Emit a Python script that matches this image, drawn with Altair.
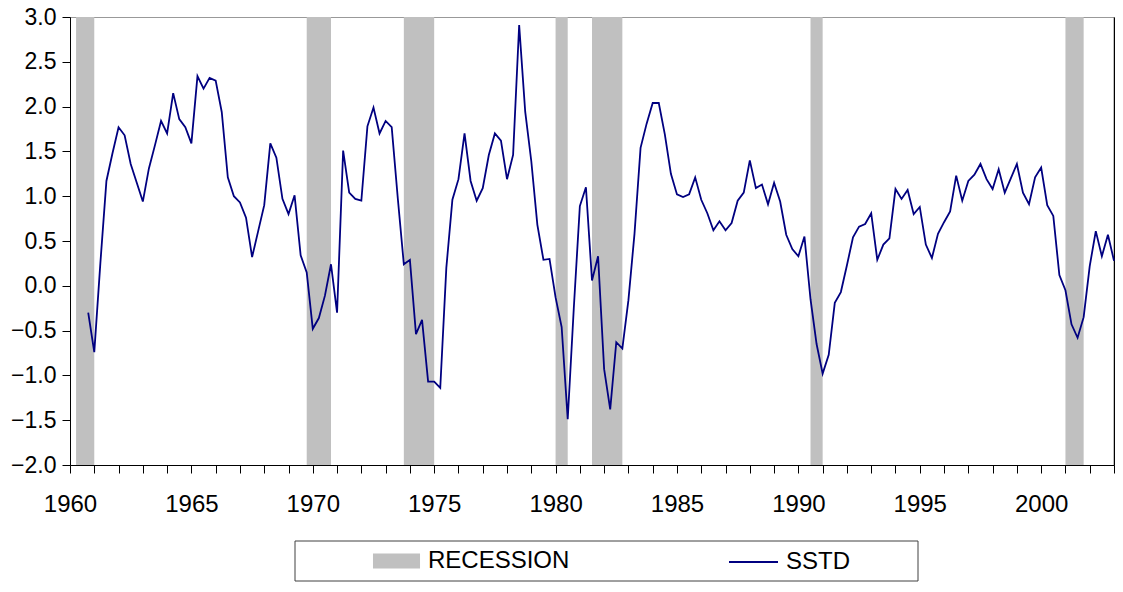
import altair as alt
import pandas as pd

# Quarterly SSTD series, 1960Q4 .. 2003Q1
start_year = 1960.75
sstd = [
    -0.30,                          # 1960Q4
    -0.74, 0.25, 1.17, 1.48,        # 1961
    1.77, 1.68, 1.36, 1.15,         # 1962
    0.94, 1.31, 1.57, 1.84,         # 1963
    1.70, 2.15, 1.86, 1.77,         # 1964
    1.59, 2.34, 2.20, 2.32,         # 1965
    2.29, 1.94, 1.21, 1.00,         # 1966
    0.93, 0.76, 0.32, 0.61,         # 1967
    0.90, 1.59, 1.43, 0.97,         # 1968
    0.80, 1.01, 0.34, 0.15,         # 1969
    -0.48, -0.36, -0.11, 0.24,      # 1970
    -0.30, 1.51, 1.04, 0.97,        # 1971
    0.95, 1.78, 1.99, 1.70,         # 1972
    1.84, 1.77, 0.98, 0.24,         # 1973
    0.29, -0.54, -0.38, -1.07,      # 1974
    -1.07, -1.14, 0.20, 0.96,       # 1975
    1.19, 1.70, 1.17, 0.95,         # 1976
    1.09, 1.46, 1.70, 1.62,         # 1977
    1.19, 1.46, 2.91, 1.94,         # 1978
    1.39, 0.68, 0.29, 0.30,         # 1979
    -0.13, -0.46, -1.49, -0.25,     # 1980
    0.89, 1.10, 0.06, 0.33,         # 1981
    -0.93, -1.38, -0.63, -0.70,     # 1982
    -0.16, 0.58, 1.54, 1.81,        # 1983
    2.04, 2.04, 1.69, 1.25,         # 1984
    1.02, 0.99, 1.02, 1.21,         # 1985
    0.96, 0.81, 0.62, 0.72,         # 1986
    0.62, 0.70, 0.95, 1.04,         # 1987
    1.40, 1.09, 1.13, 0.91,         # 1988
    1.15, 0.94, 0.57, 0.41,         # 1989
    0.33, 0.55, -0.15, -0.65,       # 1990
    -0.98, -0.77, -0.19, -0.07,     # 1991
    0.23, 0.54, 0.66, 0.69,         # 1992
    0.81, 0.29, 0.46, 0.53,         # 1993
    1.08, 0.97, 1.07, 0.80,         # 1994
    0.88, 0.46, 0.31, 0.58,         # 1995
    0.71, 0.83, 1.23, 0.95,         # 1996
    1.17, 1.24, 1.36, 1.19,         # 1997
    1.08, 1.30, 1.04, 1.20,         # 1998
    1.36, 1.04, 0.91, 1.21,         # 1999
    1.32, 0.90, 0.78, 0.12,         # 2000
    -0.05, -0.43, -0.58, -0.35,     # 2001
    0.22, 0.61, 0.33, 0.57,         # 2002
    0.28,                           # 2003Q1
]

# NBER recessions (first and last recession quarter)
rec_start = [1960.25, 1969.75, 1973.75, 1980.0, 1981.5, 1990.5, 2001.0]
rec_end = [1961.0, 1970.75, 1975.0, 1980.5, 1982.75, 1991.0, 2001.75]

rec_name, rec_color = "RECESSION", "#c0c0c0"
line_name, line_color = "SSTD", "#000080"
y_ticks = [-2.0, -1.5, -1.0, -0.5, 0.0, 0.5, 1.0, 1.5, 2.0, 2.5, 3.0]
x_ticks = list(range(1960, 2004))

line_df = pd.DataFrame({
    "t": [start_year + 0.25 * i for i in range(len(sstd))],
    "v": sstd,
    "series": line_name,
})
rec_df = pd.DataFrame({"start": rec_start, "end": rec_end, "series": rec_name})

FONT = "Liberation Sans"
RECT_PATH = "M-0.96,-0.31H0.96V0.31H-0.96Z"
LEG_Y = 519.5

legend_common = dict(
    title=None,
    orient="none",
    legendY=LEG_Y,
    direction="horizontal",
    labelFont=FONT,
    labelFontSize=24,
    labelColor="black",
    symbolSize=2401,
    labelOffset=7,
    padding=0,
    labelLimit=400,
)

xscale = alt.Scale(domain=[1960, 2003], nice=False, zero=False)
yscale = alt.Scale(domain=[-2, 3], nice=False, zero=False)

x_axis = alt.Axis(values=x_ticks, title=None, tickSize=8, labelPadding=19,
                  labelFlush=False, labelOverlap=False, labelBound=False,
                  labelExpr="datum.value % 5 == 0 ? format(datum.value, 'd') : ''")
y_axis_left = alt.Axis(orient="left", values=y_ticks, format=".1f", title=None, tickSize=8,
                       labelPadding=6, labelFontSize=23, labelFlush=False, labelOverlap=False)
y_axis_right = alt.Axis(orient="right", labels=False, ticks=False, title=None,
                        domainColor="black", domainWidth=1.5)

rects = alt.Chart(rec_df).mark_rect(opacity=1).encode(
    x=alt.X("start:Q", scale=xscale, axis=x_axis),
    x2="end:Q",
    y=alt.Y(datum=3.0, type="quantitative", scale=yscale, axis=y_axis_right),
    y2=alt.Y2(datum=-2.0),
    fill=alt.Fill(
        "series:N",
        scale=alt.Scale(domain=[rec_name], range=[rec_color]),
        legend=alt.Legend(legendX=302, symbolType=RECT_PATH, symbolStrokeWidth=0,
                          symbolOpacity=1, **legend_common),
    ),
)

line = alt.Chart(line_df).mark_line(strokeWidth=1.8).encode(
    x=alt.X("t:Q", scale=xscale, axis=x_axis),
    y=alt.Y("v:Q", scale=yscale, axis=y_axis_left),
    stroke=alt.Stroke(
        "series:N",
        scale=alt.Scale(domain=[line_name], range=[line_color]),
        legend=alt.Legend(legendX=658, symbolType="stroke", symbolStrokeWidth=2,
                          **legend_common),
    ),
)

legend_box = alt.Chart(pd.DataFrame({"k": [0]})).mark_rect(
    fill="white", fillOpacity=0, stroke="#404040", strokeWidth=1
).encode(
    x=alt.value(225), x2=alt.value(848), y=alt.value(LEG_Y + 4.5), y2=alt.value(LEG_Y + 44.5)
)

chart = alt.layer(rects, line, legend_box).resolve_scale(
    fill="independent", stroke="independent"
).resolve_axis(
    y="independent"
).properties(
    width=1044,
    height=448,
    padding={"left": 62, "top": 9, "right": 1, "bottom": 117},
    autosize=alt.AutoSizeParams(type="none"),
).configure_view(
    stroke="#999999", strokeWidth=1
).configure_axis(
    domainColor="black", tickColor="black", labelColor="black",
    labelFont=FONT, labelFontSize=24, grid=False, domainWidth=1, tickWidth=1,
)

chart.save("out.html", embed_options={"renderer": "svg", "actions": False})
